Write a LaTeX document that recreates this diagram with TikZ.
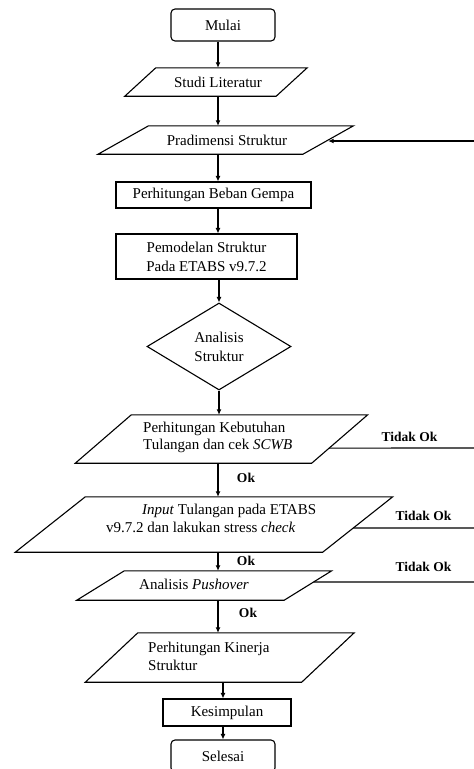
\documentclass[tikz,border=0pt]{standalone}
\usepackage{fontspec}
\setmainfont{Liberation Serif}
\usetikzlibrary{shapes.geometric,arrows.meta,calc}
\newcommand\pgram[2]{\draw[line] ([xshift=#2pt]#1.north west) -- ([xshift=#2pt]#1.north east) -- ([xshift=-#2pt]#1.south east) -- ([xshift=-#2pt]#1.south west) -- cycle;}
\begin{document}
\begin{tikzpicture}[x=1pt,y=-1pt,
  line/.style={line width=1.1pt},
  box/.style={draw, line width=1.1pt, inner sep=0pt, font=\fontsize{15}{19}\selectfont, align=center},
  term/.style={box, rounded corners=4pt},
  dia/.style={box, diamond},
  pbox/.style={inner sep=0pt},
  txt/.style={font=\fontsize{15}{17.5}\selectfont, inner sep=0pt},
  lbl/.style={font=\bfseries\fontsize{13.5}{16}\selectfont, inner sep=0pt},
  arr/.style={line width=1.1pt, -{Latex[length=5.5pt,width=5pt]}}
]
\useasboundingbox (0,0) rectangle (474,769);
\clip (0,0) rectangle (474,769);

% terminals and boxes
\node[term, minimum width=104pt, minimum height=32pt] (mulai) at (223,25) {Mulai};
\node[box, minimum width=195pt, minimum height=26pt] (gempa) at (213.5,195) {Perhitungan Beban Gempa};
\node[box, minimum width=181pt, minimum height=45pt] (pemodelan) at (206.5,256.5) {Pemodelan Struktur\\Pada ETABS v9.7.2};
\node[dia, minimum width=144pt, minimum height=87pt] (analisis) at (219,346.5) {Analisis\\Struktur};
\node[box, minimum width=128pt, minimum height=27pt] (kesimpulan) at (227,712.5) {Kesimpulan};
\node[term, minimum width=104pt, minimum height=32pt] (selesai) at (223,756) {Selesai};

% parallelograms
\node[pbox, minimum width=151pt, minimum height=28pt] (studi) at (216,82) {};
\pgram{studi}{15.5}
\node[txt] (studi-t) at (218,82) {Studi Literatur};

\node[pbox, minimum width=204.5pt, minimum height=28pt] (pradimensi) at (225.75,140) {};
\pgram{pradimensi}{25.25}
\node[txt] (pradimensi-t) at (227,140) {Pradimensi Struktur};

\node[pbox, minimum width=236pt, minimum height=48pt] (kebutuhan) at (221.5,439) {};
\pgram{kebutuhan}{28}
\node[txt, align=left, anchor=west] (kebutuhan-t) at (143,437.5) {Perhitungan Kebutuhan\\Tulangan dan cek \textit{SCWB}};

\node[pbox, minimum width=307pt, minimum height=55pt] (input) at (204,524.5) {};
\pgram{input}{35}
\node[txt, align=left, anchor=west] (input-t) at (106,518.5) {\hspace*{36pt}\textit{Input} Tulangan pada ETABS\\v9.7.2 dan lakukan stress \textit{check}};

\node[pbox, minimum width=207pt, minimum height=29pt] (pushover) at (204.25,585.5) {};
\pgram{pushover}{23.75}
\node[txt] (pushover-t) at (194,584) {Analisis \textit{Pushover}};

\node[pbox, minimum width=216pt, minimum height=49pt] (kinerja) at (219.75,657.5) {};
\pgram{kinerja}{26.25}
\node[txt, align=left, anchor=west] (kinerja-t) at (148,656.5) {Perhitungan Kinerja\\Struktur};

% spines
\coordinate (sp) at (218,0);
\coordinate (sp2) at (223,0);

\draw[arr] (mulai.south -| sp) -- (studi.north -| sp);
\draw[arr] (studi.south -| sp) -- (pradimensi.north -| sp);
\draw[arr] (pradimensi.south -| sp) -- (gempa.north -| sp);
\draw[arr] (gempa.south -| sp) -- (pemodelan.north -| sp);
\draw[arr] (pemodelan.south -| analisis.north) -- (analisis.north);
\draw[arr] (analisis.south) -- (kebutuhan.north -| analisis.south);
\draw[arr] (kebutuhan.south -| sp) -- (input.north -| sp);
\draw[arr] (input.south -| sp) -- (pushover.north -| sp);
\draw[arr] (pushover.south -| sp) -- (kinerja.north -| sp);
\draw[arr] (kinerja.south -| sp2) -- (kesimpulan.north -| sp2);
\draw[arr] (kesimpulan.south -| sp2) -- (selesai.north -| sp2);

\node[lbl] (ok1) at (246,478) {Ok};
\node[lbl] (ok2) at (246,561) {Ok};
\node[lbl] (ok3) at (248,613) {Ok};

% feedback
\coordinate (fb) at (474,141);
\draw[arr] (fb) -- (fb -| pradimensi.east);

\coordinate (r1) at (474,448);
\coordinate (r2) at (474,528);
\coordinate (r3) at (474,582);
\draw[line] ($([xshift=28pt]kebutuhan.north east)!0.6875!([xshift=-28pt]kebutuhan.south east)$) -- (r1);
\draw[line] ($([xshift=35pt]input.north east)!0.5636!([xshift=-35pt]input.south east)$) -- (r2);
\draw[line] ($([xshift=23.75pt]pushover.north east)!0.379!([xshift=-23.75pt]pushover.south east)$) -- (r3);

\node[lbl] (tidak1) at (409.5,437) {Tidak Ok};
\node[lbl] (tidak2) at (423.5,516) {Tidak Ok};
\node[lbl] (tidak3) at (423.5,567) {Tidak Ok};
\end{tikzpicture}
\end{document}
